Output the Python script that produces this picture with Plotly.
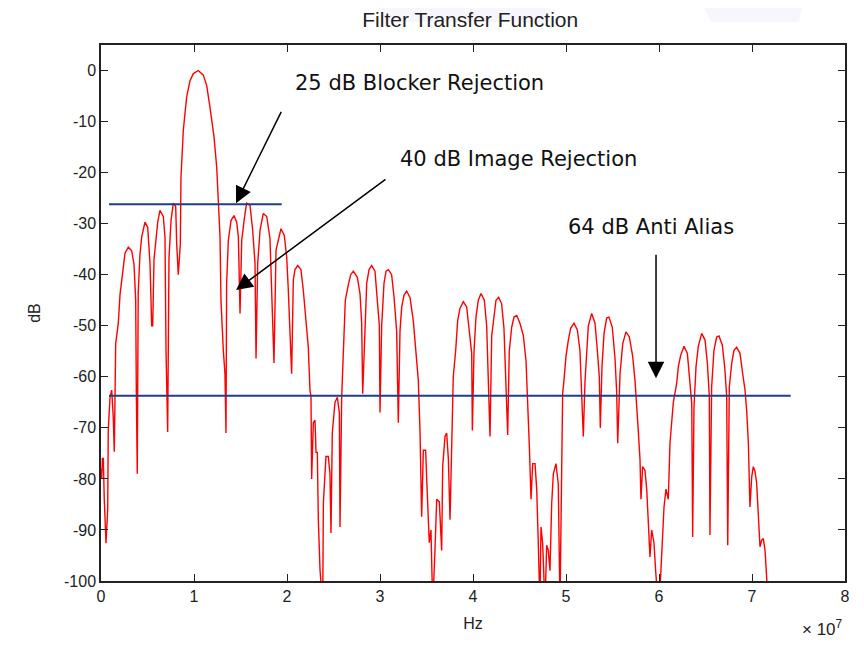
import plotly.graph_objects as go

# Frequency in units of 1e7 Hz, magnitude in dB
freq_e7 = [
    0.000, 0.008, 0.015, 0.025, 0.035, 0.054, 0.072, 0.078, 0.097, 0.115, 0.132, 0.143, 0.158,
    0.186, 0.204, 0.229, 0.258, 0.294, 0.330, 0.355, 0.373, 0.380, 0.390, 0.400, 0.419, 0.438,
    0.473, 0.502, 0.527, 0.545, 0.556, 0.570, 0.591, 0.610, 0.634, 0.670, 0.688, 0.699, 0.717,
    0.731, 0.753, 0.777, 0.803, 0.814, 0.831, 0.853, 0.860, 0.874,
    0.885, 0.921, 0.957, 0.993, 1.046, 1.100, 1.136, 1.172, 1.215, 1.244, 1.261, 1.280,
    1.290, 1.298, 1.315, 1.333, 1.344, 1.351, 1.369, 1.398, 1.430, 1.459, 1.477, 1.495, 1.513,
    1.541, 1.566, 1.602, 1.631, 1.656, 1.667, 1.685, 1.710, 1.745, 1.782, 1.817, 1.846, 1.860,
    1.882, 1.907, 1.935, 1.971, 1.997, 2.014, 2.032, 2.050, 2.068, 2.086, 2.115, 2.150, 2.175,
    2.201, 2.229, 2.247,
    2.258, 2.265, 2.283, 2.301, 2.312, 2.326, 2.337, 2.355, 2.373, 2.384, 2.391, 2.419, 2.444,
    2.462, 2.473, 2.487, 2.516, 2.541, 2.563, 2.570, 2.588, 2.606, 2.627, 2.659, 2.685, 2.713,
    2.756, 2.785, 2.803, 2.814, 2.839, 2.857, 2.882, 2.911, 2.946, 2.971, 2.993, 3.000, 3.018,
    3.043, 3.065, 3.090, 3.125, 3.151, 3.179, 3.197, 3.215, 3.233, 3.258, 3.287, 3.323, 3.358,
    3.387, 3.412, 3.430, 3.448, 3.466, 3.491, 3.502,
    3.520, 3.530, 3.548, 3.567, 3.591, 3.610, 3.638, 3.652, 3.663, 3.674, 3.699, 3.717, 3.735,
    3.753, 3.771, 3.788, 3.814, 3.835, 3.860, 3.896, 3.932, 3.960, 3.986, 3.993, 4.011, 4.032,
    4.057, 4.086, 4.122, 4.147, 4.165, 4.183, 4.201, 4.226, 4.247, 4.276, 4.308, 4.333, 4.355,
    4.373, 4.390, 4.416, 4.441, 4.470, 4.505, 4.541, 4.570, 4.588, 4.606, 4.624, 4.642, 4.667,
    4.685, 4.702, 4.720,
    4.731, 4.749, 4.774, 4.792, 4.810, 4.828, 4.846, 4.864, 4.892, 4.917, 4.935, 4.953, 4.964,
    4.978,
    5.000, 5.025, 5.050, 5.086, 5.122, 5.150, 5.169, 5.186, 5.204, 5.222, 5.240, 5.276, 5.312,
    5.337, 5.358, 5.369, 5.387, 5.409, 5.437, 5.462, 5.498, 5.527, 5.545, 5.556, 5.581, 5.610,
    5.645, 5.681, 5.717, 5.742, 5.760, 5.777, 5.796, 5.806, 5.824, 5.849, 5.868, 5.885, 5.903,
    5.921, 5.946, 5.964, 5.992, 6.018, 6.039, 6.054, 6.075, 6.100, 6.118, 6.136, 6.154, 6.190,
    6.208, 6.233, 6.269, 6.305, 6.326, 6.352, 6.362, 6.376, 6.398, 6.423, 6.459, 6.495, 6.520,
    6.541, 6.548, 6.566, 6.591, 6.620, 6.645, 6.681, 6.706, 6.728, 6.739, 6.756, 6.782, 6.806,
    6.835, 6.871, 6.900, 6.925, 6.943, 6.961, 6.978, 6.997, 7.014, 7.032, 7.050, 7.068, 7.086,
    7.104, 7.122, 7.140, 7.160, 7.170,
]
mag_db = [
    -78, -80, -76, -76, -84, -92.6, -86, -70.5, -64, -62.6, -68, -74.7, -53.5,
    -49.5, -44, -40, -35.8, -34.6, -35.3, -38, -45, -63, -79, -43.6, -36, -32.6,
    -29.7, -30.7, -37.8, -50, -50, -37, -33, -29.7, -27.4, -28.6, -32.6, -54.8, -70.8,
    -36.8, -29.4, -26, -26.6, -34, -40, -34, -21, -15.6,
    -11.7, -5.2, -2, -0.6, 0, -0.9, -2.9, -7.2, -13, -18.9, -24.8, -32.6,
    -45, -49.5, -54.8, -59.4, -71, -41.7, -33.3, -29.4, -28.4, -29.7, -32.6, -47.6, -33.3,
    -29, -26, -26.4, -31.3, -37.8, -56.4, -37.8, -31.3, -28, -28.6, -32.9, -52.2, -57.3,
    -35.2, -33, -31, -32.3, -36.6, -43, -52, -59.4, -41, -39, -38.2, -39, -43,
    -48.3, -54.2, -62.6,
    -63.9, -80, -69, -68.5, -74.8, -74.8, -88, -97.8, -105, -105, -84.8, -75.6, -75.6,
    -79, -90.6, -71, -65, -64, -67, -89.4, -64, -54.2, -45, -42, -40, -39.3,
    -40.5, -43.7, -49.5, -63.3, -49, -41.7, -39, -38.2, -39.3, -45, -50, -67, -50,
    -41.7, -39.3, -39, -40, -44.4, -51, -69, -51, -46.4, -44, -43.2, -44.5, -49,
    -54.8, -60.7, -70.5, -87.4, -74.4, -74.4, -80,
    -90, -92.5, -90, -105, -94, -84, -84.5, -88.7, -94, -77.6, -71.7, -71, -76,
    -88, -76, -60, -54.8, -49, -46.6, -45.3, -46.3, -51, -55.4, -70.5, -55, -48.3,
    -45, -43.7, -45, -50, -63, -71.7, -52, -47.6, -45, -44.4, -45.7, -50.5, -63,
    -71.4, -55, -50.3, -48.3, -48, -49.5, -51.9, -56.8, -64, -73.7, -84, -77, -77,
    -82, -92.6, -105,
    -89.4, -92.6, -105, -93, -94, -98, -84.8, -79, -77, -81, -105, -70, -63.3,
    -60.7,
    -56, -52.8, -50.5, -49.5, -50.8, -54.8, -65, -71.7, -61, -54.8, -50, -47.6, -49.5,
    -54.8, -60, -70, -58, -51.5, -48.5, -48.3, -50.3, -56.4, -63, -73, -59.4, -53.5,
    -51.2, -52.2, -56, -60.7, -64.8, -70.5, -76.3, -84, -77.6, -78.3, -82, -89.4, -95.3,
    -90, -92.5, -98, -105, -99, -92, -85.5, -82, -84, -73, -68, -65, -61.3,
    -58, -55.8, -54, -55.4, -59.4, -65.2, -91.4, -66, -58, -54, -51.5, -52.8, -57.3,
    -63.8, -91, -62, -54.8, -52.2, -52, -53.8, -58, -63.8, -93, -62, -57.3, -54.8,
    -54.2, -55.4, -59.4, -62.6, -66.7, -73, -85.5, -79.6, -77.6, -78.5, -80.8, -88.7, -93.3,
    -92, -91.7, -94, -100, -110,
]

# Reference levels (dB) and their frequency extents (1e7 Hz)
blocker_level = [-26.2, -26.2]
blocker_x = [0.086, 1.943]
alias_level = [-63.7, -63.7]
alias_x = [0.086, 7.416]

x_ticks = [0, 1, 2, 3, 4, 5, 6, 7, 8]
y_ticks = [0, -10, -20, -30, -40, -50, -60, -70, -80, -90, -100]

fig = go.Figure()
fig.add_trace(go.Scatter(x=freq_e7, y=mag_db, mode="lines",
                         line=dict(color="#ff0000", width=1.4), showlegend=False,
                         hoverinfo="skip"))
fig.add_trace(go.Scatter(x=blocker_x, y=blocker_level, mode="lines",
                         line=dict(color="#1f3d8c", width=2), showlegend=False))
fig.add_trace(go.Scatter(x=alias_x, y=alias_level, mode="lines",
                         line=dict(color="#1f3d8c", width=2), showlegend=False))

tick_font = dict(family="Liberation Sans, Arial, sans-serif", size=16, color="#222222")
ann_font = dict(family="DejaVu Sans, Verdana, sans-serif", size=21, color="#111111")

fig.update_xaxes(range=[0, 8], tickvals=x_ticks, ticktext=[str(v) for v in x_ticks],
                 ticks="inside", ticklen=7, tickcolor="#222", showline=True,
                 linecolor="#222", linewidth=1.5, mirror="ticks", showgrid=False,
                 zeroline=False, tickfont=tick_font, automargin=False,
                 title=dict(text="Hz", font=tick_font, standoff=14))
fig.update_yaxes(range=[-100, 5], tickvals=y_ticks, ticktext=[str(v) for v in y_ticks],
                 ticks="inside", ticklen=7, tickcolor="#222", showline=True,
                 linecolor="#222", linewidth=1.5, mirror="ticks", showgrid=False,
                 zeroline=False, tickfont=tick_font, automargin=False,
                 title=dict(text="dB", font=tick_font, standoff=19))

arrow_style = dict(xref="x", yref="y", axref="x", ayref="y", text="", showarrow=True,
                   arrowhead=2, arrowsize=2.2, arrowwidth=1.5, arrowcolor="#000000")
annotations = [
    dict(x=2.065, y=-2.4, xref="x", yref="y", text="25 dB Blocker Rejection",
         showarrow=False, xanchor="left", yanchor="middle", font=ann_font),
    dict(x=3.19, y=-17.4, xref="x", yref="y", text="40 dB Image Rejection",
         showarrow=False, xanchor="left", yanchor="middle", font=ann_font),
    dict(x=5.0, y=-30.6, xref="x", yref="y", text="64 dB Anti Alias",
         showarrow=False, xanchor="left", yanchor="middle", font=ann_font),
    dict(x=1.452, y=-26.0, ax=1.946, ay=-7.8, **arrow_style),
    dict(x=1.452, y=-43.0, ax=3.075, ay=-21.1, **arrow_style),
    dict(x=5.968, y=-60.3, ax=5.968, ay=-35.8, **arrow_style),
    dict(x=1.0, y=-0.087, xref="paper", yref="paper", text="× 10<sup>7</sup>",
         showarrow=False, xanchor="right", yanchor="middle",
         font=dict(family="Liberation Sans, Arial, sans-serif", size=17, color="#222")),
]

fig.update_layout(
    width=856, height=632,
    margin=dict(l=93, r=19, t=37, b=59, autoexpand=False),
    paper_bgcolor="white", plot_bgcolor="white",
    title=dict(text="Filter Transfer Function", x=0.540, xanchor="center",
               y=1 - 12 / 632, yanchor="middle",
               font=dict(family="Liberation Sans, Arial, sans-serif", size=21, color="#222")),
    annotations=annotations,
    shapes=[
        dict(type="path", xref="paper", yref="paper",
             path="M 0.368,1.084 L 0.605,1.084 L 0.601,1.043 L 0.382,1.043 Z",
             fillcolor="#f6f6fc", line=dict(width=0), layer="below"),
        dict(type="path", xref="paper", yref="paper",
             path="M 0.805,1.084 L 0.945,1.084 L 0.938,1.043 L 0.820,1.043 Z",
             fillcolor="#f6f6fc", line=dict(width=0), layer="below"),
    ],
)

fig.write_html("out.html")
